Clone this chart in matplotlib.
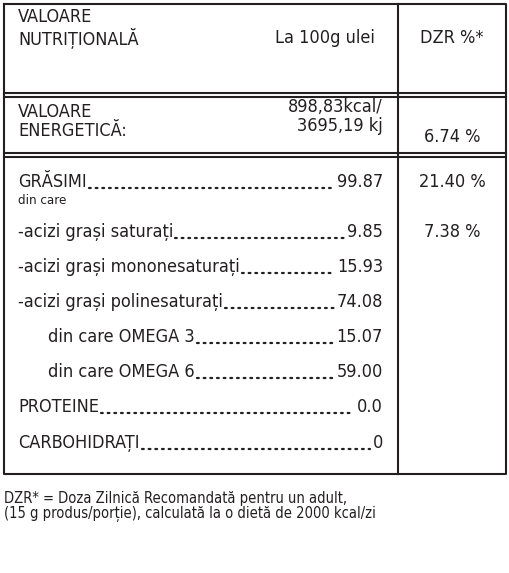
import matplotlib
matplotlib.use("Agg")
import matplotlib.pyplot as plt

FONT = ['DejaVu Sans']
header = ["VALOARE\nNUTRIȚIONALĂ", "La 100g ulei", "DZR %*"]
energy_label = "VALOARE\nENERGETICĂ:"
energy_value = "898,83kcal/\n3695,19 kj"
energy_dzr = "6.74 %"
labels = ["GRĂSIMI", "din care", "-acizi grași saturați", "-acizi grași mononesaturați",
          "-acizi grași polinesaturați", "din care OMEGA 3", "din care OMEGA 6",
          "PROTEINE", "CARBOHIDRAȚI"]
values = ["99.87", "", "9.85", "15.93", "74.08", "15.07", "59.00", "0.0", "0"]
indent = [0, 0, 0, 0, 0, 30, 30, 0, 0]
row_y = [191, 207, 241, 276, 311, 346, 381, 416, 452]
row_size = [13, 9.5, 13, 13, 13, 13, 13, 13, 13]
dzr_vals = ["21.40 %", "7.38 %"]
dzr_y = [191, 241]
footnote = "DZR* = Doza Zilnică Recomandată pentru un adult,\n(15 g produs/porție), calculată la o dietă de 2000 kcal/zi"

fig = plt.figure(figsize=(5.1, 5.73), dpi=100)
ax = fig.add_axes([0, 0, 1, 1])
ax.set_xlim(0, 510); ax.set_ylim(573, 0); ax.axis('off')
k = dict(color='#231f20', fontstretch='condensed')
lk = dict(color='#231f20')
ax.plot([4, 506, 506, 4, 4], [4, 4, 474, 474, 4], lw=1.5, **lk)
ax.plot([4, 506], [93, 93], lw=1.5, **lk)
ax.plot([4, 506], [97, 97], lw=1.5, **lk)
ax.plot([4, 506], [153, 153], lw=1.5, **lk)
ax.plot([4, 506], [157, 157], lw=1.5, **lk)
ax.plot([398, 398], [4, 474], lw=1.5, **lk)

ax.text(18, 8, header[0], fontsize=13, family=FONT, va='top', linespacing=1.1, **k)
ax.text(325, 47, header[1], fontsize=13, family=FONT, va='bottom', ha='center', **k)
ax.text(452, 47, header[2], fontsize=13, family=FONT, va='bottom', ha='center', **k)
ax.text(18, 103, energy_label, fontsize=13, family=FONT, va='top', linespacing=1.1, **k)
ax.text(383, 98, energy_value, fontsize=13, family=FONT, va='top', ha='right', linespacing=1.05, **k)
ax.text(452, 146, energy_dzr, fontsize=13, family=FONT, va='bottom', ha='center', **k)

fig.canvas.draw()
r = fig.canvas.get_renderer()
inv = ax.transData.inverted()
for lab, val, ind, y, s in zip(labels, values, indent, row_y, row_size):
    t = ax.text(18 + ind, y, lab, fontsize=s, family=FONT, va='bottom', **k)
    if val:
        v = ax.text(383, y, val, fontsize=s, family=FONT, va='bottom', ha='right', **k)
        x0 = inv.transform(t.get_window_extent(r).get_points())[1][0]
        x1 = inv.transform(v.get_window_extent(r).get_points())[0][0]
        ax.plot([x0 + 2, x1 - 3], [y - 3, y - 3], ls=(0, (0.8, 2.2)), lw=1.6,
                solid_capstyle='round', dash_capstyle='round', **lk)
for t, y in zip(dzr_vals, dzr_y):
    ax.text(452, y, t, fontsize=13, family=FONT, va='bottom', ha='center', **k)
ax.text(4, 522, footnote, fontsize=10.5, family=FONT, va='bottom', linespacing=1.0, **k)
fig.savefig("out.png", dpi=100)
